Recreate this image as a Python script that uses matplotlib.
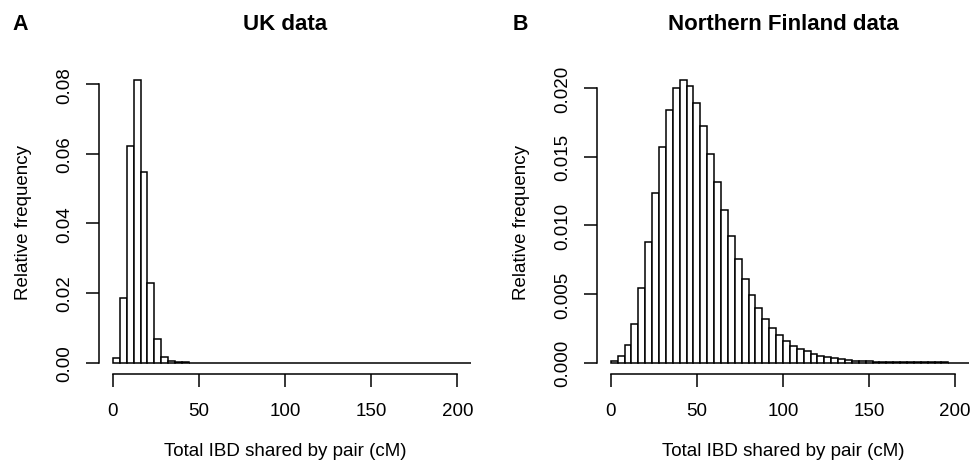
import numpy as np
import matplotlib
matplotlib.use("Agg")
import matplotlib.pyplot as plt

plt.rcParams['font.family'] = ['Liberation Sans', 'DejaVu Sans']

# histogram densities, 4 cM bins starting at 0
bin_width = 4
uk_density = [0.00124, 0.01856, 0.0621, 0.0811, 0.0547, 0.0229, 0.0068, 0.0017,
              0.0005, 0.0002, 0.0001, 0.00005]
nfbc_density = [0.00012, 0.00046, 0.00126, 0.00284, 0.00544, 0.00877, 0.01237, 0.01572,
                0.0184, 0.02005, 0.02058, 0.0202, 0.01896, 0.01728, 0.01524, 0.01315,
                0.01111, 0.00923, 0.00756, 0.00612, 0.00493, 0.00396, 0.00316, 0.0025,
                0.00199, 0.00156, 0.00124, 0.001, 0.00083, 0.00066, 0.00051, 0.00041,
                0.00032, 0.00024, 0.00019, 0.00015, 0.00012, 0.0001, 0.00007, 0.00007,
                0.00006, 0.00005, 0.00004, 0.00004, 0.00003, 0.00003, 0.00002, 0.00002,
                0.00002, 0.00001, 0.00001, 0.00001]
n_bins = 53

uk_yticks = [0.00, 0.02, 0.04, 0.06, 0.08]
uk_ylabels = ["0.00", "0.02", "0.04", "0.06", "0.08"]
nf_yticks = [0.000, 0.005, 0.010, 0.015, 0.020]
nf_ylabels = ["0.000", "0.005", "0.010", "0.015", "0.020"]
xticks = [0, 50, 100, 150, 200]

panels = [
    ("A", "UK data", uk_density, uk_yticks, uk_ylabels),
    ("B", "Northern Finland data", nfbc_density, nf_yticks, nf_ylabels),
]

fig = plt.figure(figsize=(9.72, 4.64), dpi=100)
W, H = 972, 464
ax_left_px = [99.2, 597]
ax_w_px = 372
ax_top, ax_bot = 70, 375
ax_h_px = ax_bot - ax_top

for i, (letter, title, dens, yt, yl) in enumerate(panels):
    ax = fig.add_axes([ax_left_px[i] / W, 1 - ax_bot / H, ax_w_px / W, ax_h_px / H])
    heights = np.zeros(n_bins)
    heights[:len(dens)] = dens
    edges = np.arange(n_bins) * bin_width
    ax.bar(edges, heights, width=bin_width, align='edge', color='white',
           edgecolor='black', linewidth=1.1)
    ax.set_xlim(-8, 208)
    top = max(dens)
    ax.set_ylim(-0.04 * top, 1.04 * top)

    for s in ['top', 'right']:
        ax.spines[s].set_visible(False)
    for s in ['left', 'bottom']:
        ax.spines[s].set_linewidth(1.1)
    ax.spines['left'].set_bounds(yt[0], yt[-1])
    ax.spines['bottom'].set_bounds(0, 200)
    ax.set_xticks(xticks)
    ax.set_xticklabels([str(t) for t in xticks])
    ax.set_yticks(yt)
    ax.set_yticklabels(yl, rotation=90, va='center')
    ax.tick_params(direction='out', length=9.4, width=1.1, labelsize=13.5, pad=9)
    ax.tick_params(axis='x', pad=11)

    ax.set_xlabel("Total IBD shared by pair (cM)", fontsize=13.5)
    ax.xaxis.set_label_coords(0.5, (ax_bot - 443) / ax_h_px)
    ax.set_ylabel("Relative frequency", fontsize=13.5)
    ax.yaxis.set_label_coords((32 - ax_left_px[0]) / ax_w_px, 0.5)

    ax.text(0.5, (ax_bot - 24) / ax_h_px, title, transform=ax.transAxes,
            ha='center', va='center', fontsize=16, fontweight='bold')
    fig.text((20 + 500 * i) / W, 1 - 25 / H, letter, ha='center', va='center',
             fontsize=15.5, fontweight='bold')

fig.savefig("out.png", dpi=100)
